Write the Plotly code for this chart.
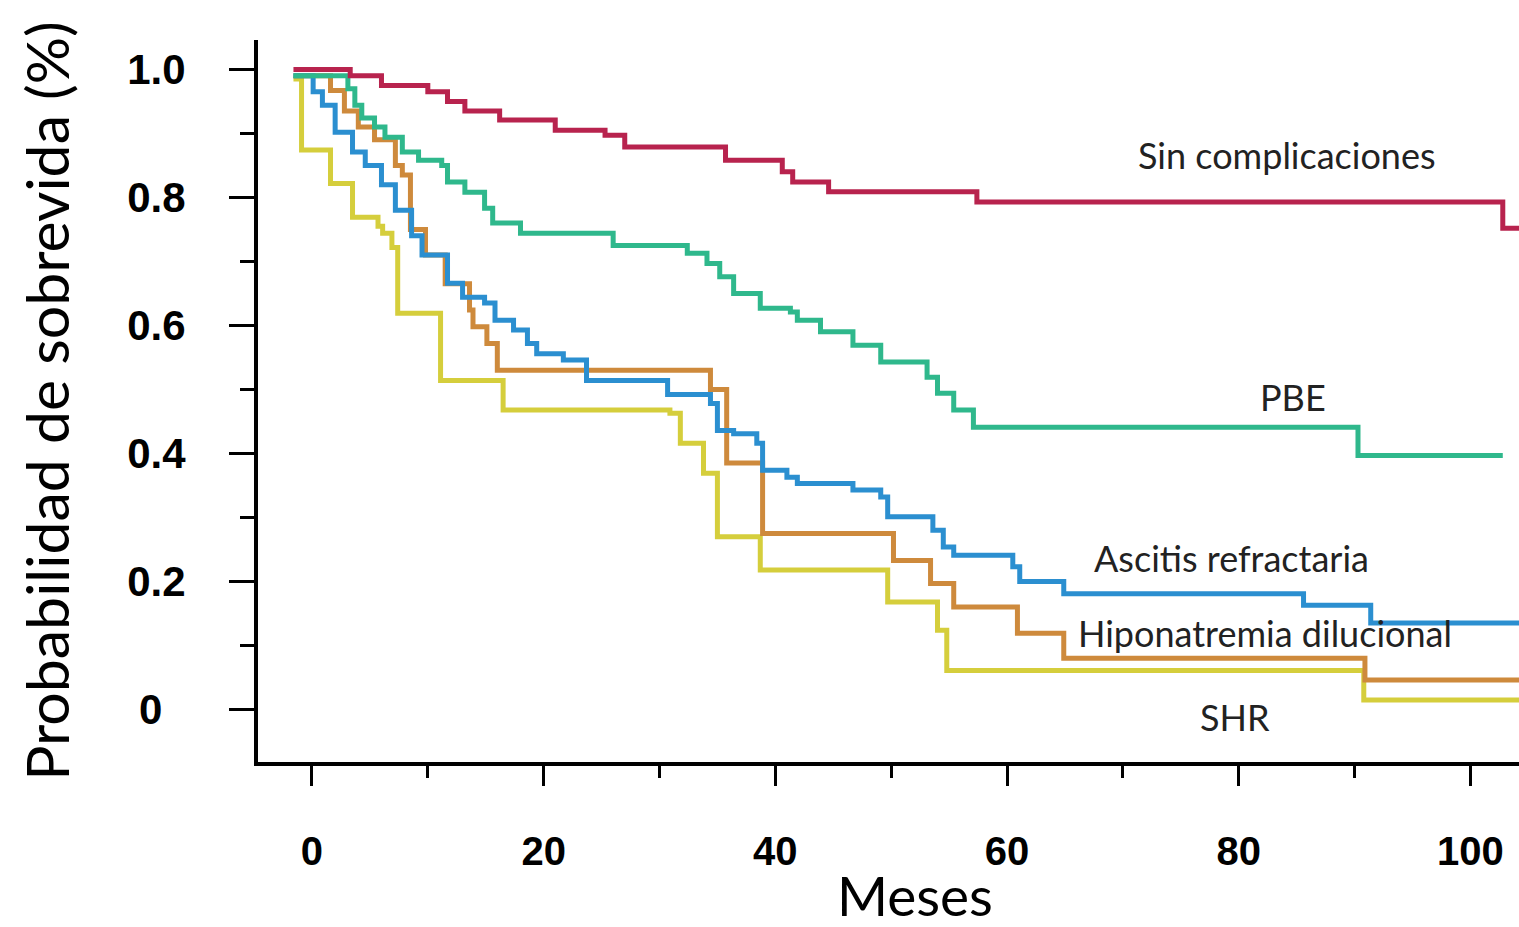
import plotly.graph_objects as go

# ---------------- data (months, survival probability) ----------------
sin_x = [-1.6, 3.3, 6.0, 10.0, 11.7, 13.2, 16.2, 21.0, 25.3, 27.0, 35.7, 40.6, 41.5, 44.6, 57.4, 102.8, 104.2]
sin_y = [1.0, 0.99, 0.975, 0.965, 0.95, 0.935, 0.921, 0.905, 0.897, 0.879, 0.858, 0.84, 0.824, 0.809, 0.793, 0.752, 0.752]

pbe_x = [-1.6, 3.1, 3.7, 4.3, 5.4, 6.3, 7.8, 9.2, 11.2, 11.7, 13.2, 14.9, 15.6, 18.0, 26.0, 32.4, 34.1, 35.2,
         36.4, 38.7, 41.3, 41.9, 43.9, 46.7, 49.1, 53.1, 54.0, 55.4, 57.1, 90.3, 102.8]
pbe_y = [0.99, 0.97, 0.944, 0.924, 0.91, 0.894, 0.871, 0.858, 0.85, 0.824, 0.808, 0.783, 0.76, 0.744, 0.725, 0.713,
         0.697, 0.676, 0.65, 0.627, 0.621, 0.608, 0.59, 0.569, 0.543, 0.519, 0.494, 0.468, 0.441, 0.397, 0.397]

asc_x = [-1.6, 0.1, 0.9, 2.0, 3.5, 4.6, 6.0, 7.2, 8.6, 9.5, 11.7, 13.0, 14.9, 15.8, 17.4, 18.6, 19.4, 21.7, 23.7,
         30.7, 34.4, 35.0, 36.4, 38.4, 38.9, 41.0, 41.9, 46.7, 49.1, 49.7, 53.6, 54.5, 55.4, 60.5, 61.1, 64.9,
         85.6, 91.4, 104.2]
asc_y = [0.99, 0.965, 0.944, 0.902, 0.871, 0.85, 0.82, 0.78, 0.74, 0.71, 0.666, 0.644, 0.635, 0.608, 0.593, 0.572,
         0.556, 0.546, 0.514, 0.492, 0.478, 0.436, 0.431, 0.416, 0.374, 0.363, 0.353, 0.343, 0.332, 0.301, 0.28,
         0.254, 0.241, 0.223, 0.2, 0.181, 0.163, 0.135, 0.135]

hipo_x = [-1.6, 1.6, 2.8, 4.0, 5.4, 7.2, 7.8, 8.5, 9.8, 11.5, 13.6, 13.9, 15.1, 16.0, 34.4, 35.8, 38.9, 50.2,
          53.4, 55.4, 60.9, 64.9, 90.9, 104.2]
hipo_y = [0.99, 0.967, 0.935, 0.91, 0.89, 0.85, 0.835, 0.75, 0.71, 0.665, 0.624, 0.598, 0.572, 0.53, 0.5, 0.385,
          0.275, 0.233, 0.197, 0.16, 0.119, 0.08, 0.046, 0.046]

shr_x = [-1.6, -0.9, 1.6, 3.5, 5.7, 6.1, 6.9, 7.4, 11.1, 16.5, 30.9, 31.8, 33.8, 35.0, 38.7, 49.7, 54.0, 54.8,
         90.8, 104.2]
shr_y = [0.985, 0.874, 0.822, 0.769, 0.755, 0.744, 0.722, 0.619, 0.514, 0.468, 0.463, 0.416, 0.369, 0.27, 0.218,
         0.168, 0.124, 0.061, 0.015, 0.015]

series_names = ["SHR", "Hiponatremia dilucional", "Ascitis refractaria", "PBE", "Sin complicaciones"]
series_x = [shr_x, hipo_x, asc_x, pbe_x, sin_x]
series_y = [shr_y, hipo_y, asc_y, pbe_y, sin_y]
series_colors = ["#D5CE3C", "#CE8A3C", "#2B8FD0", "#2FB88C", "#B8234E"]

# label positions (month, probability)
label_text = ["Sin complicaciones", "PBE", "Ascitis refractaria", "Hiponatremia dilucional", "SHR"]
label_x = [84.2, 84.7, 79.4, 82.3, 79.7]
label_y = [0.866, 0.488, 0.236, 0.119, -0.011]

x_ticks = [0, 20, 40, 60, 80, 100]
x_minor = [10, 30, 50, 70, 90]
y_ticks = [0, 0.2, 0.4, 0.6, 0.8, 1.0]
y_ticktext = ["0\u2007", "0.2", "0.4", "0.6", "0.8", "1.0"]
y_minor = [0.1, 0.3, 0.5, 0.7, 0.9]

fig = go.Figure()
for name, xs, ys, col in zip(series_names, series_x, series_y, series_colors):
    fig.add_trace(go.Scatter(x=xs, y=ys, mode="lines", name=name,
                             line=dict(color=col, width=5, shape="hv")))

for t, lx, ly in zip(label_text, label_x, label_y):
    fig.add_annotation(x=lx, y=ly, text=t, showarrow=False, xanchor="center", yanchor="middle",
                       font=dict(family="Lato, Open Sans, sans-serif", size=36, color="#222222"))

fig.add_annotation(xref="paper", yref="paper", x=0.521, y=-0.184, text="Meses", showarrow=False,
                   xanchor="center", yanchor="middle",
                   font=dict(family="Lato, Open Sans, sans-serif", size=55, color="black"))

fig.update_layout(
    width=1519, height=927,
    margin=dict(l=258, r=0, t=40, b=165),
    paper_bgcolor="white", plot_bgcolor="white",
    showlegend=False,
    xaxis=dict(range=[-4.66, 104.2], showline=True, linecolor="black", linewidth=4,
               showgrid=False, zeroline=False, ticks="outside", ticklen=20, tickwidth=3,
               tickcolor="black", tickvals=x_ticks,
               tickfont=dict(family="Liberation Sans, Arial, sans-serif", size=40, color="black", weight="bold"),
               ticklabelstandoff=31,
               minor=dict(ticks="outside", ticklen=12, tickwidth=3, tickcolor="black", tickvals=x_minor,
                          showgrid=False)),
    yaxis=dict(range=[-0.082, 1.046], showline=True, linecolor="black", linewidth=4,
               showgrid=False, zeroline=False, ticks="outside", ticklen=25, tickwidth=3,
               tickcolor="black", tickvals=y_ticks, ticktext=y_ticktext,
               tickfont=dict(family="Liberation Sans, Arial, sans-serif", size=42, color="black", weight="bold"),
               ticklabelstandoff=35,
               minor=dict(ticks="outside", ticklen=14, tickwidth=3, tickcolor="black", tickvals=y_minor,
                          showgrid=False),
               title=dict(text="Probabilidad de sobrevida (%)", standoff=40,
                          font=dict(family="Lato, Open Sans, sans-serif", size=59, color="black"))),
)

fig.write_html("out.html")
